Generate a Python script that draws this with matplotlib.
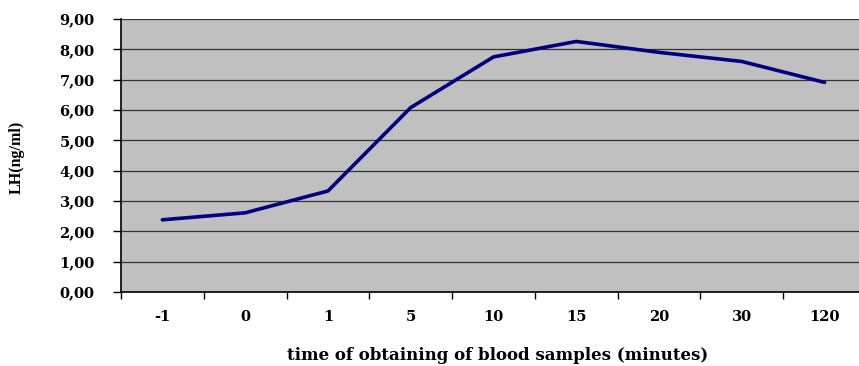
import matplotlib
matplotlib.use("Agg")
import matplotlib.pyplot as plt
import numpy as np
from matplotlib.ticker import FixedLocator, NullFormatter

categories = ["-1", "0", "1", "5", "10", "15", "20", "30", "120"]
lh_values = [2.38, 2.61, 3.33, 6.08, 7.75, 8.26, 7.90, 7.60, 6.91]
y_ticks = [0, 1, 2, 3, 4, 5, 6, 7, 8, 9]
y_tick_labels = ["0,00", "1,00", "2,00", "3,00", "4,00", "5,00", "6,00", "7,00", "8,00", "9,00"]

plt.rcParams['font.family'] = ['DejaVu Serif']

W, H = 859, 366
fig = plt.figure(figsize=(W / 100, H / 100), dpi=100)
left, right, top, bottom = 121, 866, 19, 292
ax = fig.add_axes([left / W, 1 - bottom / H, (right - left) / W, (bottom - top) / H])
ax.set_facecolor("#C0C0C0")

x = np.arange(len(categories))
ax.plot(x, lh_values, color="#000080", lw=2.6, solid_capstyle="round", zorder=3)

ax.set_xlim(-0.5, len(categories) - 0.5)
ax.set_ylim(0, 9)
ax.set_yticks(y_ticks)
ax.set_yticklabels(y_tick_labels, fontsize=10.5, fontweight="bold")
ax.yaxis.grid(True, color="#333333", lw=0.9)
ax.set_axisbelow(True)

ax.set_xticks(x)
ax.set_xticklabels(categories, fontsize=10.5, fontweight="bold")
ax.tick_params(axis="x", which="major", length=0, pad=13)
ax.xaxis.set_minor_locator(FixedLocator(np.arange(-0.5, len(categories), 1.0)))
ax.xaxis.set_minor_formatter(NullFormatter())
ax.tick_params(axis="x", which="minor", length=5, width=1, color="black", direction="out")
ax.tick_params(axis="y", length=6, width=1, color="black", direction="out", pad=13)

for s in ["top", "right"]:
    ax.spines[s].set_visible(False)
ax.spines["left"].set_color("black")
ax.spines["left"].set_linewidth(1.2)
ax.spines["bottom"].set_color("black")
ax.spines["bottom"].set_linewidth(1.2)

fig.text(498 / W, 1 - 356 / H, "time of obtaining of blood samples (minutes)",
         ha="center", va="center", fontsize=12, fontweight="bold")
fig.text(17 / W, 1 - 157 / H, "LH(ng/ml)", ha="center", va="center",
         rotation=90, fontsize=11.5, fontweight="bold",
         family=["Liberation Serif"])

fig.savefig("out.png", dpi=100)
